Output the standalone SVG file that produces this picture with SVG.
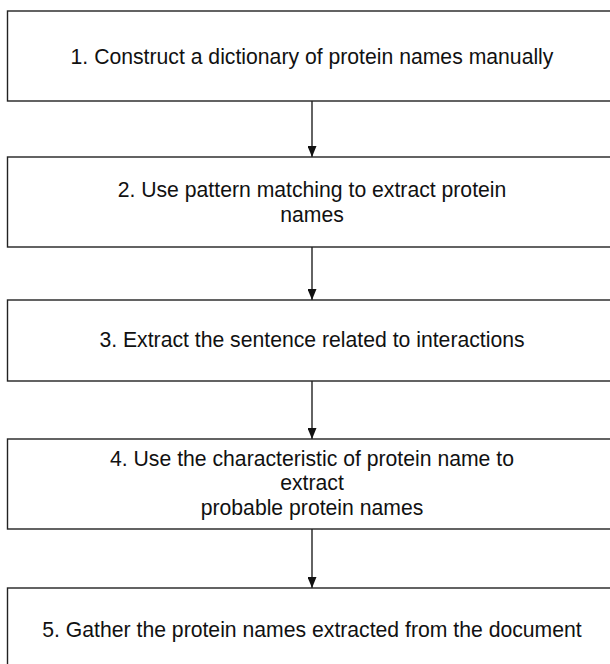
<svg xmlns="http://www.w3.org/2000/svg" width="610" height="664" viewBox="0 0 610 664">
<style>
.box{fill:#fff;stroke:#222;stroke-width:1.4}
.t{font-family:"Liberation Sans",Arial,sans-serif;font-size:21.2px;fill:#111;text-anchor:middle}
.c{stroke:#222;stroke-width:1.4;fill:none}
</style>
<defs>
<marker id="a" markerWidth="11" markerHeight="9" refX="11" refY="4.5" orient="auto" markerUnits="userSpaceOnUse" viewBox="0 0 11 9">
<path d="M0,0 L11,4.5 L0,9 Z" fill="#111"/>
</marker>
</defs>
<rect width="610" height="664" fill="#fff"/>
<g id="connectors">
<line class="c" x1="312" y1="101" x2="312" y2="157" marker-end="url(#a)"/>
<line class="c" x1="312" y1="247" x2="312" y2="300" marker-end="url(#a)"/>
<line class="c" x1="312" y1="381" x2="312" y2="439" marker-end="url(#a)"/>
<line class="c" x1="312" y1="529" x2="312" y2="588" marker-end="url(#a)"/>
</g>
<g id="n1">
<rect class="box" x="7.5" y="11" width="612" height="90"/>
<text class="t" x="312" y="63.5">1. Construct a dictionary of protein names manually</text>
</g>
<g id="n2">
<rect class="box" x="7.5" y="157" width="612" height="90"/>
<text class="t" x="312" y="196.7">2. Use pattern matching to extract protein</text>
<text class="t" x="312" y="221.7">names</text>
</g>
<g id="n3">
<rect class="box" x="7.5" y="300" width="612" height="81"/>
<text class="t" x="312" y="347">3. Extract the sentence related to interactions</text>
</g>
<g id="n4">
<rect class="box" x="7.5" y="439" width="612" height="90"/>
<text class="t" x="312" y="465.7">4. Use the characteristic of protein name to</text>
<text class="t" x="312" y="490.3">extract</text>
<text class="t" x="312" y="515">probable protein names</text>
</g>
<g id="n5">
<rect class="box" x="7.5" y="588" width="612" height="84"/>
<text class="t" x="312" y="636.7">5. Gather the protein names extracted from the document</text>
</g>
</svg>
